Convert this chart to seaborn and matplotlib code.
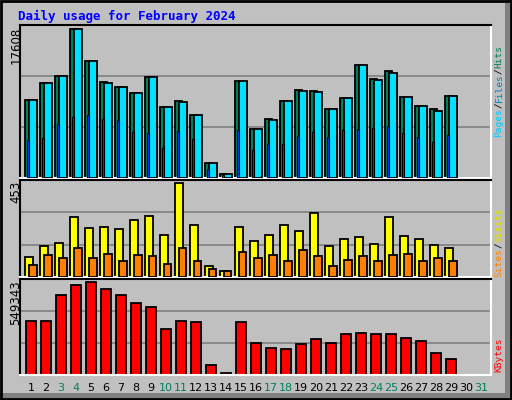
import matplotlib
matplotlib.use("Agg")
import matplotlib.pyplot as plt
import seaborn as sns
import numpy as np
from matplotlib.patches import Rectangle

days = list(range(1, 30))
tick_days = list(range(1, 32))
weekend = [3, 4, 10, 11, 17, 18, 24, 25, 31]
hits = [9245, 11280, 12110, 17608, 13900, 11400, 10800, 10080, 11990, 8410, 9160, 7450, 1720, 525,
        11520, 5780, 6980, 9130, 10440, 10360, 8170, 9490, 13430, 11750, 12710, 9600, 8530, 8170, 9720]
files = [9245, 11280, 12110, 17608, 13900, 11280, 10800, 10080, 11990, 8410, 8960, 7450, 1720, 525,
         11520, 5780, 6860, 9130, 10320, 10240, 8170, 9490, 13430, 11630, 12470, 9600, 8530, 7980, 9720]
pages = [4470, 4740, 6380, 7250, 7450, 6980, 6860, 5460, 5300, 3550, 5540, 4590, 1040, 400,
         5660, 3270, 3990, 3990, 4950, 5420, 4830, 5660, 5780, 5940, 6140, 5300, 4830, 4230, 5060]
visits = [98, 148, 162, 290, 236, 241, 231, 276, 295, 202, 453, 251, 54, 28, 241, 172, 202, 251,
          222, 310, 148, 182, 192, 158, 290, 197, 182, 153, 138]
sites = [59, 108, 89, 138, 89, 113, 79, 108, 103, 64, 138, 79, 39, 28, 118, 89, 108, 79, 128,
         103, 54, 84, 103, 79, 108, 113, 79, 89, 79]
kbytes = [319900, 319900, 470800, 531200, 549343, 507000, 470800, 422500, 398400, 271600, 319900,
          313900, 60400, 12100, 313900, 187100, 156900, 150900, 181100, 211300, 187100, 241400,
          247500, 241400, 241400, 217300, 199200, 126800, 96600]

sns.set_theme(style="white")
plt.rcParams['font.family'] = ['DejaVu Sans']
SIL = "#C0C0C0"
W, H = 512, 400
fig = plt.figure(figsize=(5.12, 4.0), dpi=100, facecolor=SIL)

def fx(px): return px / W
def fy(py): return 1 - py / H

fig.patches.append(Rectangle((0, 0), 1, 1, transform=fig.transFigure, color=SIL, lw=0, zorder=-10))
fig.patches.append(Rectangle((fx(505), 0), fx(7), 1, transform=fig.transFigure, color="#808080", lw=0))
fig.patches.append(Rectangle((0, 0), 1, 7 / H, transform=fig.transFigure, color="#808080", lw=0))
fig.patches.append(Rectangle((0.002, 0.002), 0.996, 0.996, transform=fig.transFigure, fill=False, ec="black", lw=2))

x0, x1 = 0.27, 31.67
def mkax(top, bot):
    ax = fig.add_axes([fx(20), fy(bot), fx(491) - fx(20), (bot - top) / H])
    ax.set_facecolor(SIL)
    ax.set_xlim(x0, x1)
    for s in ax.spines.values():
        s.set_color("black"); s.set_linewidth(1.5)
    ax.spines['right'].set_color("white"); ax.spines['bottom'].set_color("white")
    ax.set_xticks([]); ax.set_yticks([])
    return ax

d = np.array(days)
lw = 1.3
ax1 = mkax(25, 178)
m = max(hits) * 1.03
ax1.set_ylim(0, m)
for g in (m / 3, 2 * m / 3):
    ax1.axhline(g, color="#808080", lw=1.2, zorder=0)
ax1.bar(d - 0.4, hits, width=0.5, align="edge", color="#00805C", ec="black", lw=lw, zorder=2)
ax1.bar(d - 0.13, files, width=0.53, align="edge", color="#00E0FF", ec="black", lw=lw, zorder=3)
ax1.bar(d - 0.27, pages, width=0.14, align="edge", color="#0040FF", ec="black", lw=0.8, zorder=4)

ax2 = mkax(180, 277)
m2 = max(visits) * 1.03
ax2.set_ylim(0, m2)
for g in (m2 / 3, 2 * m2 / 3):
    ax2.axhline(g, color="#808080", lw=1.2, zorder=0)
ax2.bar(d - 0.4, visits, width=0.55, align="edge", color="#FFFF00", ec="black", lw=lw, zorder=2)
ax2.bar(d - 0.13, sites, width=0.5, align="edge", color="#FF8000", ec="black", lw=lw, zorder=3)

ax3 = mkax(279, 375)
m3 = max(kbytes) * 1.03
ax3.set_ylim(0, m3)
for g in (m3 / 3, 2 * m3 / 3):
    ax3.axhline(g, color="#808080", lw=1.2, zorder=0)
ax3.bar(d - 0.33, kbytes, width=0.66, align="edge", color="#FF0000", ec="black", lw=lw, zorder=2)

mono = "DejaVu Sans Mono"
fig.text(fx(18), fy(16), "Daily usage for February 2024", color="#0000FF", fontsize=9,
         fontweight="bold", family=mono, va="center", ha="left")
for txt, top in (("17608", 27), ("453", 181), ("549343", 280)):
    fig.text(fx(16), fy(top), txt, rotation=90, ha="center", va="top", fontsize=8.5, color="black")

for t in tick_days:
    xd = fx(20) + (t - x0) / (x1 - x0) * (fx(491) - fx(20))
    fig.text(xd, fy(388), str(t), ha="center", va="center", fontsize=8,
             color="#00805C" if t in weekend else "black")

fig.canvas.draw()
r = fig.canvas.get_renderer()
def vstack(parts, bottom_px):
    y = fy(bottom_px)
    for txt, col in parts:
        t = fig.text(fx(499), y, txt, rotation=90, ha="center", va="bottom", fontsize=6.8,
                     color=col, family=mono)
        bb = t.get_window_extent(r)
        y += bb.height / fig.bbox.height

vstack([("Pages", "#00C8FF"), ("/", "black"), ("Files", "#0080C0"), ("/", "black"), ("Hits", "#00805C")], 137)
vstack([("Sites", "#FF8000"), ("/", "black"), ("Visits", "#E0E000")], 277)
vstack([("KBytes", "#FF0000")], 372)

fig.savefig("out.png", dpi=100, facecolor=SIL)
